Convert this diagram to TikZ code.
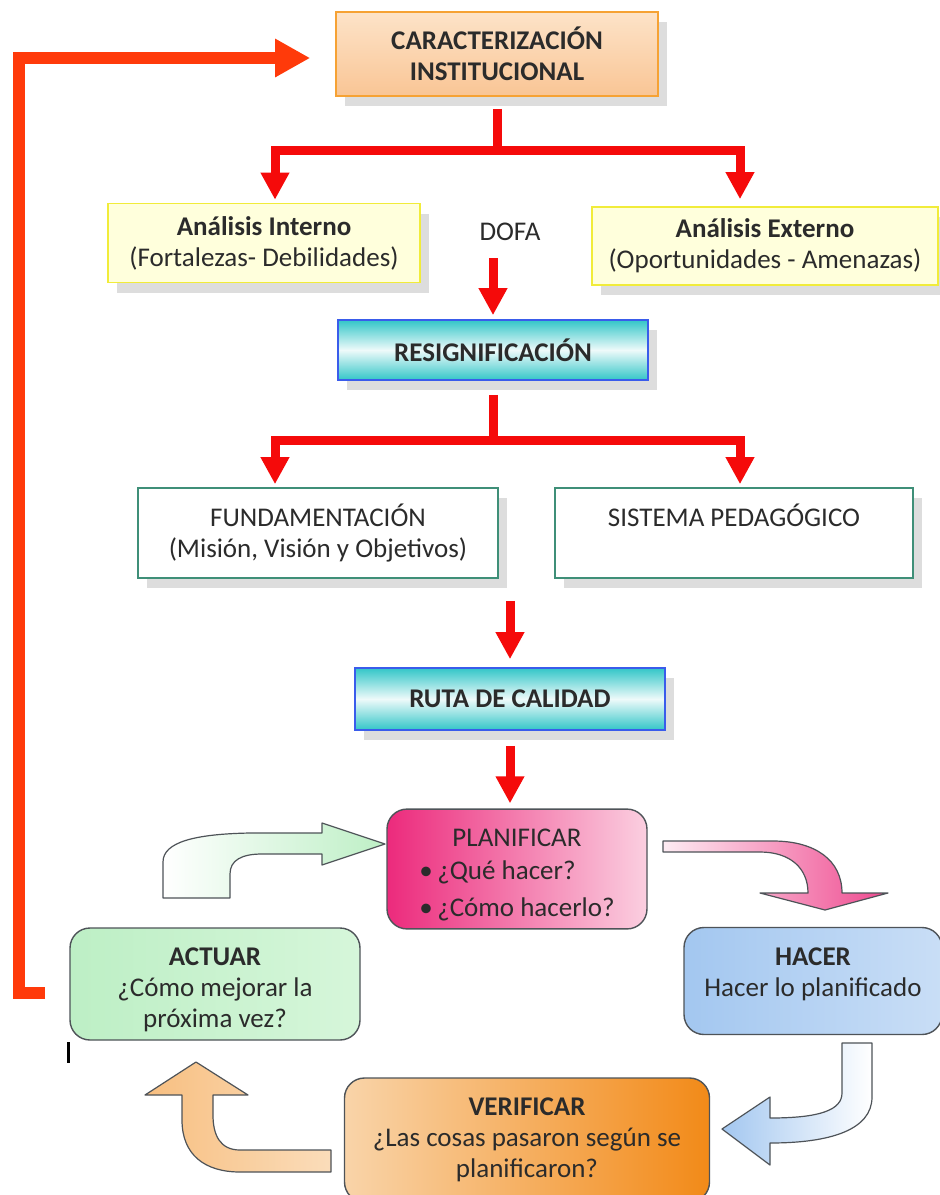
\documentclass[tikz,border=0pt]{standalone}
\usepackage{fontspec}
\setmainfont{Carlito}
\usetikzlibrary{arrows.meta, shadows}

\newcommand{\cuerpo}{\fontsize{27}{31}\selectfont}

\definecolor{loopred}{HTML}{FF3A0A}
\definecolor{linkred}{HTML}{F50A0A}
\definecolor{ink}{HTML}{2B2B2B}
\definecolor{peachA}{HTML}{FDE3C8}
\definecolor{peachB}{HTML}{F9C595}
\definecolor{peachline}{HTML}{F6A234}
\definecolor{lemon}{HTML}{FFFFDC}
\definecolor{lemonline}{HTML}{F1EC3A}
\definecolor{aqua}{HTML}{33C6C8}
\definecolor{aquaMid}{HTML}{EEFAFA}
\definecolor{aqualine}{HTML}{3A5CEB}
\definecolor{tealline}{HTML}{3F8F78}
\definecolor{rose}{HTML}{EC2A7C}
\definecolor{roseLight}{HTML}{FBCFE0}
\definecolor{sky}{HTML}{A3C7F0}
\definecolor{skyLight}{HTML}{C9DEF6}
\definecolor{amber}{HTML}{F28A18}
\definecolor{amberLight}{HTML}{F9D4A9}
\definecolor{mint}{HTML}{BDEFC5}
\definecolor{mintLight}{HTML}{D6F6DA}
\definecolor{frame}{HTML}{4E5358}

\begin{document}
\begin{tikzpicture}[x=1pt, y=-1pt,
        % recuadros con sombra
        panel/.style={
            rectangle,
            draw=#1,
            line width=1.6pt,
            align=center,
            text=ink,
            inner sep=3pt,
            font=\cuerpo,
            drop shadow={shadow xshift=9pt, shadow yshift=-10pt, fill=black!22, opacity=0.6}
        },
        % fases del ciclo PHVA
        phase/.style={
            rectangle,
            rounded corners=20pt,
            draw=#1,
            line width=1.4pt,
            align=center,
            text=ink,
            font=\cuerpo
        },
        % flechas rojas
        link/.style={-{Triangle[width=27pt, length=27pt]}, line width=9pt, draw=linkred},
        loopback/.style={-{Triangle[width=36pt, length=35pt]}, line width=12pt, draw=loopred},
        % flechas curvas del ciclo
        curvearrow/.style={draw=frame, line width=1.2pt, line join=round}
    ]
    \path[use as bounding box, fill=white] (0,0) rectangle (940,1195);

    % ================= bloques superiores =================
    \node[panel=peachline, top color=peachA, bottom color=peachB, font=\cuerpo\bfseries,
          minimum width=322pt, minimum height=84pt] (cara) at (497,54) {CARACTERIZACIÓN\\INSTITUCIONAL};
    \node[panel=lemonline, fill=lemon, minimum width=312pt, minimum height=79pt] (ai) at (264,243)
          {\textbf{Análisis Interno}\\(Fortalezas- Debilidades)};
    \node[panel=lemonline, fill=lemon, minimum width=346pt, minimum height=78pt] (ae) at (765,246)
          {\textbf{Análisis Externo}\\(Oportunidades - Amenazas)};
    \node[text=ink, font=\cuerpo] (dofa) at (510,232) {DOFA};
    \node[panel=aqualine, top color=aqua, bottom color=aqua, middle color=aquaMid, font=\cuerpo\bfseries,
          minimum width=310pt, minimum height=60pt] (res) at (493,350) {RESIGNIFICACIÓN};
    \node[panel=tealline, fill=white, minimum width=360pt, minimum height=90pt] (fund) at (318,533)
          {FUNDAMENTACIÓN\\(Misión, Visión y Objetivos)};
    \node[panel=tealline, fill=white, minimum width=358pt, minimum height=90pt] (sist) at (734,533)
          {SISTEMA PEDAGÓGICO\\\phantom{(}};
    \node[panel=aqualine, top color=aqua, bottom color=aqua, middle color=aquaMid, font=\cuerpo\bfseries,
          minimum width=310pt, minimum height=62pt] (ruta) at (510,699) {RUTA DE CALIDAD};

    % ================= ciclo PHVA =================
    \node[phase=frame, left color=rose, right color=roseLight, minimum width=260pt, minimum height=118pt] (plan) at (517,869)
          {\rule{0pt}{34pt}PLANIFICAR\\[10pt]\begin{tabular}{@{}l@{}}\textbullet\,¿Qué hacer?\\[6pt]\textbullet\,¿Cómo hacerlo?\end{tabular}};
    \node[phase=frame, left color=sky, right color=skyLight, minimum width=258pt, minimum height=107pt] (hacer) at (813,981)
          {\textbf{HACER}\\Hacer lo planificado\\[-14pt]\mbox{}};
    \node[phase=frame, left color=amberLight, right color=amber, minimum width=365pt, minimum height=124pt] (verif) at (527,1140)
          {\textbf{VERIFICAR}\\¿Las cosas pasaron según se\\planificaron?};
    \node[phase=frame, left color=mint, right color=mintLight, minimum width=290pt, minimum height=112pt] (actuar) at (215,984)
          {\rule{0pt}{30pt}\textbf{ACTUAR}\\¿Cómo mejorar la\\próxima vez?};

    % ================= flechas rojas =================
    \coordinate (fork1) at (497,150);
    \coordinate (fork2) at (493,440);
    \draw[line width=9pt, draw=linkred] ([yshift=-12pt]cara.south) -- (fork1);
    \draw[link] (fork1) -| ([xshift=11pt, yshift=3pt]ai.north);
    \draw[link] (fork1) -| ([xshift=-25pt, yshift=7pt]ae.north);
    \draw[link, shorten <=14pt, shorten >=4pt] (dofa.south -| res.north) -- (res.north);
    \draw[line width=9pt, draw=linkred] ([yshift=-14pt]res.south) -- (fork2);
    \draw[link] (fork2) -| ([xshift=-43pt, yshift=3pt]fund.north);
    \draw[link] (fork2) -| ([xshift=6pt, yshift=3pt]sist.north);
    \draw[link, shorten <=22pt, shorten >=8pt] (ruta.north |- fund.south) -- (ruta.north);
    \draw[link, shorten <=15pt, shorten >=5pt] (ruta.south) -- (ruta.south |- plan.north);

    % retorno al inicio
    \coordinate (loopstart) at (45,993);
    \coordinate (loopcorner) at (19,993);
    \draw[loopback, line join=miter] (loopstart) -- (loopcorner) |- ([xshift=-25pt, yshift=-4pt]cara.west);

    % ================= flechas curvas =================
    % actuar -> planificar
    \path[curvearrow, left color=white, right color=mint]
        (163,898) -- (163,862) .. controls (163,842) and (195,834) .. (250,833) -- (322,833) -- (322,823)
        -- (385,844) -- (322,865) -- (322,854) -- (262,854) .. controls (242,854) and (230,860) .. (230,874)
        -- (230,898) -- cycle;
    % planificar -> hacer
    \path[curvearrow, left color=roseLight!40, right color=rose!85]
        (663,841) -- (773,841) .. controls (815,841) and (842,860) .. (842,893) -- (888,893) -- (825,910)
        -- (760,893) -- (808,893) .. controls (808,868) and (790,852) .. (760,852) -- (663,852) -- cycle;
    % hacer -> verificar
    \path[curvearrow, left color=sky, right color=white]
        (872,1043) -- (872,1097) .. controls (872,1130) and (830,1143) .. (770,1143) -- (770,1165) -- (722,1129)
        -- (770,1097) -- (770,1118) .. controls (820,1118) and (842,1110) .. (842,1093) -- (842,1043) -- cycle;
    % verificar -> actuar
    \path[curvearrow, left color=amber!55, right color=amberLight!80]
        (331,1150) -- (240,1150) .. controls (220,1150) and (213,1135) .. (213,1115) -- (213,1095) -- (248,1095)
        -- (196,1062) -- (145,1095) -- (182,1095) -- (182,1120) .. controls (182,1155) and (205,1172) .. (240,1172)
        -- (331,1172) -- cycle;

    % marca suelta bajo ACTUAR
    \draw[line width=3pt] (68,1042) -- (68,1063);
\end{tikzpicture}
\end{document}
